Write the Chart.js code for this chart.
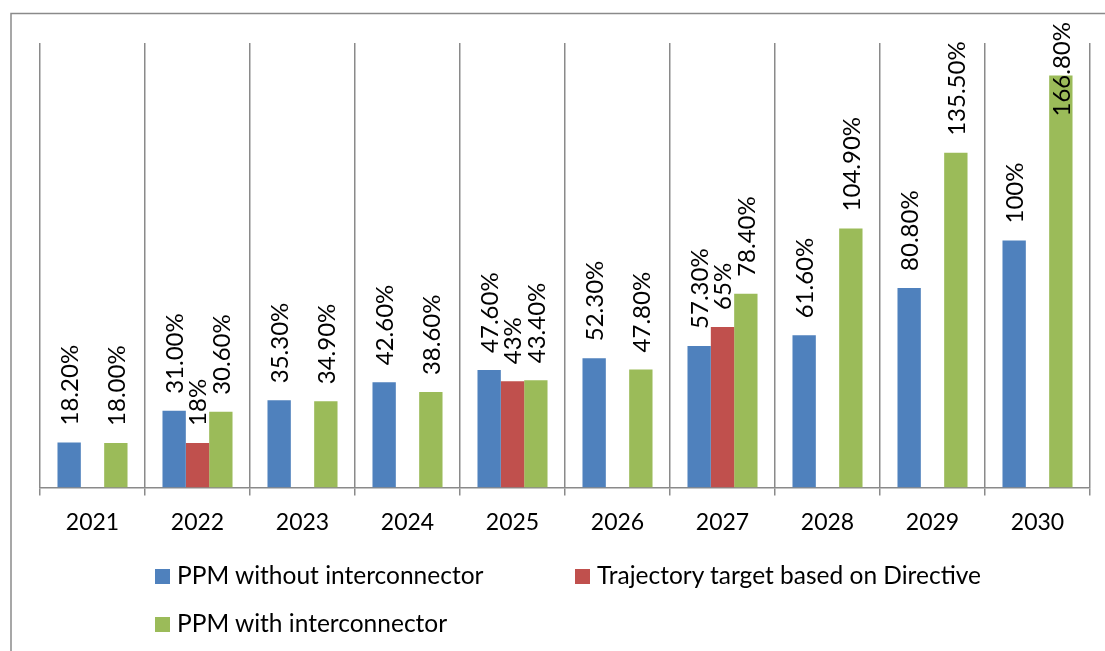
<!DOCTYPE html>
<html>
<head>
<meta charset="utf-8">
<script src="https://cdn.jsdelivr.net/npm/chart.js@4"></script>
<style>
  html, body { margin: 0; padding: 0; background: #fff; }
  #wrap { position: relative; width: 1105px; height: 651px; }
  #grafico { position: absolute; left: 0; top: 0; }
  .leg { position: absolute; font: 24.5px Lato, sans-serif; color: #000; line-height: 26px; white-space: nowrap; }
  .leg span.box { display: inline-block; width: 15px; height: 15px; margin-right: 7px; vertical-align: 0px; }
</style>
</head>
<body>
<div id="wrap">
  <canvas id="grafico" width="1105" height="651"></canvas>
  <div id="legenda"></div>
</div>
<script>
// dados
const anos = ['2021', '2022', '2023', '2024', '2025', '2026', '2027', '2028', '2029', '2030'];
const semInterconector = [18.2, 31.0, 35.3, 42.6, 47.6, 52.3, 57.3, 61.6, 80.8, 100];
const metaDiretiva = [null, 18, null, null, 43, null, 65, null, null, null];
const comInterconector = [18.0, 30.6, 34.9, 38.6, 43.4, 47.8, 78.4, 104.9, 135.5, 166.8];

// rótulos como aparecem no gráfico
const rotulosSem = ['18.20%', '31.00%', '35.30%', '42.60%', '47.60%', '52.30%', '57.30%', '61.60%', '80.80%', '100%'];
const rotulosMeta = [null, '18%', null, null, '43%', null, '65%', null, null, null];
const rotulosCom = ['18.00%', '30.60%', '34.90%', '38.60%', '43.40%', '47.80%', '78.40%', '104.90%', '135.50%', '166.80%'];

const nomes = ['PPM without interconnector', 'Trajectory target based on Directive', 'PPM with interconnector'];
const cores = ['#4F81BD', '#C0504D', '#9BBB59'];
const rotulos = [rotulosSem, rotulosMeta, rotulosCom];

const fonte = 'Lato, sans-serif';

// moldura e rótulos rotacionados
const extras = {
    id: 'extras',
    beforeDraw(chart) {
        const ctx = chart.ctx;
        ctx.save();
        ctx.strokeStyle = '#8a8a8a';
        ctx.lineWidth = 1.5;
        ctx.beginPath();
        ctx.moveTo(11, 651);
        ctx.lineTo(11, 13.5);
        ctx.lineTo(1105, 13.5);
        ctx.stroke();
        ctx.restore();
    },
    afterDatasetsDraw(chart) {
        const ctx = chart.ctx;
        ctx.save();
        ctx.font = '24px ' + fonte;
        ctx.fillStyle = '#000';
        ctx.textAlign = 'left';
        ctx.textBaseline = 'middle';
        chart.data.datasets.forEach((ds, i) => {
            const meta = chart.getDatasetMeta(i);
            meta.data.forEach((bar, j) => {
                const txt = rotulos[i][j];
                if (!txt || ds.data[j] == null) return;
                const w = ctx.measureText(txt).width;
                let base = bar.y - 17;
                if (base - w < 22) base = 22 + w; // não deixa sair do topo
                ctx.save();
                ctx.translate(bar.x + 1, base);
                ctx.rotate(-Math.PI / 2);
                ctx.fillText(txt, 0, 0);
                ctx.restore();
            });
        });
        ctx.restore();
    }
};

const ctx = document.getElementById('grafico').getContext('2d');
new Chart(ctx, {
    type: 'bar',
    data: {
        labels: anos,
        datasets: [semInterconector, metaDiretiva, comInterconector].map((d, i) => ({
            label: nomes[i],
            data: d,
            backgroundColor: cores[i],
            borderWidth: 0,
            categoryPercentage: 0.667,
            barPercentage: 1
        }))
    },
    options: {
        responsive: false,
        animation: false,
        layout: { padding: { left: 40, right: 15, top: 43, bottom: 102 } },
        plugins: {
            legend: { display: false },
            tooltip: { enabled: false }
        },
        scales: {
            x: {
                grid: {
                    display: true,
                    offset: true,
                    color: '#8a8a8a',
                    lineWidth: 1.5,
                    tickLength: 8,
                    drawOnChartArea: true
                },
                border: { display: true, color: '#8a8a8a', width: 1.5 },
                ticks: {
                    color: '#000',
                    font: { family: fonte, size: 23 },
                    padding: 13,
                    maxRotation: 0
                }
            },
            y: {
                display: false,
                min: 0,
                max: 180
            }
        }
    },
    plugins: [extras]
});

// legenda
const legenda = document.getElementById('legenda');
const posicoes = [[155, 562], [575, 562], [155, 610]];
nomes.forEach((nome, i) => {
    const item = document.createElement('div');
    item.className = 'leg';
    item.style.left = posicoes[i][0] + 'px';
    item.style.top = posicoes[i][1] + 'px';
    const box = document.createElement('span');
    box.className = 'box';
    box.style.backgroundColor = cores[i];
    item.appendChild(box);
    item.appendChild(document.createTextNode(nome));
    legenda.appendChild(item);
});
</script>
</body>
</html>
